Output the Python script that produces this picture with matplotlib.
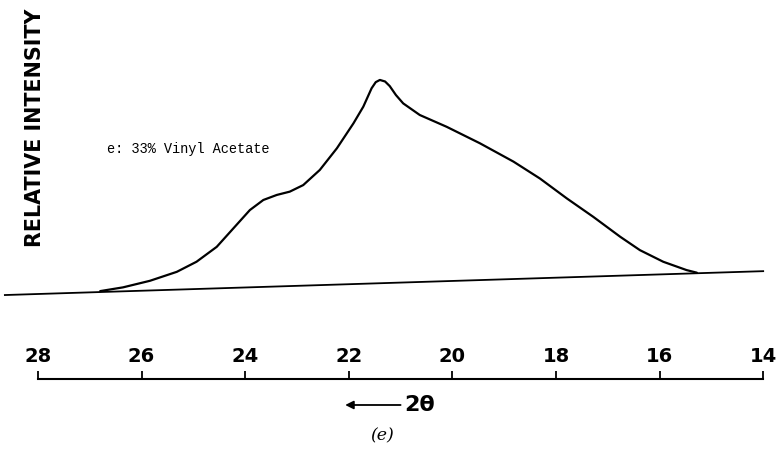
import numpy as np
import matplotlib.pyplot as plt

# 2-theta (deg) and relative intensity
two_theta = [26.80, 26.36, 25.84, 25.32, 24.94, 24.55, 24.23, 23.91, 23.65,
             23.39, 23.14, 22.88, 22.56, 22.23, 21.91, 21.72, 21.56, 21.48,
             21.40, 21.30, 21.21, 21.09, 20.95, 20.63, 20.11, 19.47, 18.82,
             18.31, 17.79, 17.28, 16.76, 16.38, 15.93, 15.48, 15.28]
intensity = [4.1, 5.8, 8.8, 12.9, 17.5, 24.3, 32.7, 41.1, 45.7,
             48.0, 49.5, 52.5, 59.4, 69.3, 80.7, 88.3, 96.7, 99.5,
             100.5, 99.8, 97.7, 93.6, 89.8, 84.5, 79.1, 71.6, 63.2,
             55.5, 46.4, 38.0, 28.9, 22.8, 17.5, 13.7, 12.5]

# straight background line
base_theta = [28.64, 14.0]
base_int = [2.3, 13.2]

tick_vals = [28, 26, 24, 22, 20, 18, 16, 14]
label_text = "e: 33% Vinyl Acetate"

fig = plt.figure(figsize=(7.81, 4.58), dpi=100)
ax = fig.add_axes([0, 0, 1, 1])
ax.set_xlim(28.734, 13.656)
ax.set_ylim(-72.1, 137.0)

ax.plot(base_theta, base_int, color="black", lw=1.3)
ax.plot(two_theta, intensity, color="black", lw=1.6,
        solid_joinstyle="round", solid_capstyle="round")

# scale bar below the trace
axis_y = -36.1
for s in ["left", "right", "bottom"]:
    ax.spines[s].set_visible(False)
ax.spines["top"].set_position(("data", axis_y))
ax.spines["top"].set_bounds(14, 28)
ax.spines["top"].set_linewidth(1.5)
ax.set_xticks(tick_vals)
ax.set_xticklabels([str(t) for t in tick_vals])
ax.set_yticks([])
ax.tick_params(axis="x", top=True, bottom=False, labeltop=True,
               labelbottom=False, direction="out", length=6, width=1.3,
               pad=3.5, labelsize=14)
for lab in ax.get_xticklabels():
    lab.set_fontweight("bold")

ax.annotate("", xy=(22.07, -47.9), xytext=(21.0, -47.9),
            arrowprops=dict(arrowstyle="-|>", color="black", lw=1.3,
                            mutation_scale=12, shrinkA=0, shrinkB=0))
ax.text(20.93, -47.9, "2θ", fontsize=16, fontweight="bold",
        ha="left", va="center")
ax.text(21.36, -62.1, "(e)", fontsize=12.5, family="DejaVu Serif",
        style="italic", ha="center", va="center")

ax.text(26.67, 68.9, label_text, fontsize=9.8, family="Liberation Mono",
        ha="left", va="center")

fig.text(35.5 / 781, 1 - 128 / 458, "RELATIVE INTENSITY", rotation=90,
         fontsize=14.9, fontweight="bold", ha="center", va="center")

fig.savefig("out.png", dpi=100)
